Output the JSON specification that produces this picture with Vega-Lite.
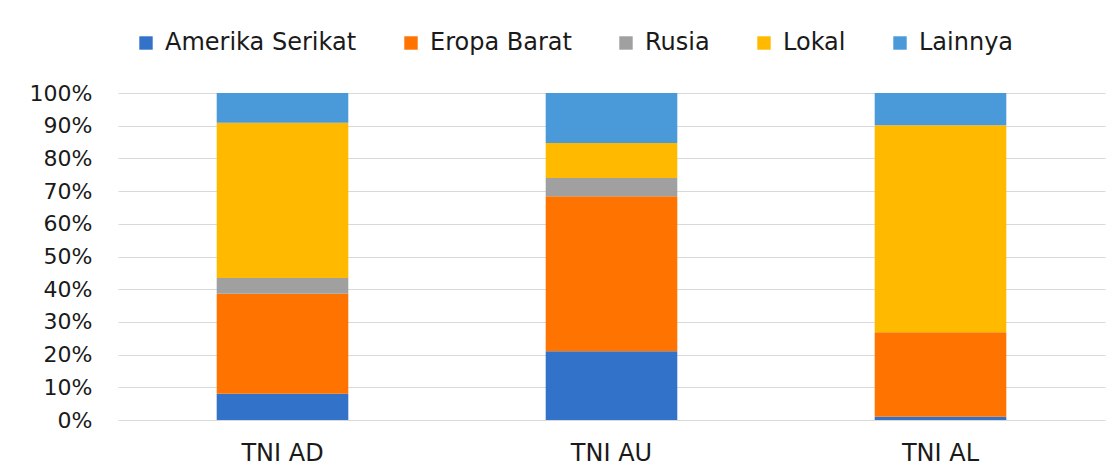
{
  "$schema": "https://vega.github.io/schema/vega-lite/v6.json",
  "width": 987,
  "height": 327,
  "autosize": "none",
  "padding": {"left": 118, "top": 93, "right": 9, "bottom": 45},
  "background": "white",
  "data": {
    "values": [
      {"kat": "TNI AD", "asal": "Amerika Serikat", "i": 1, "v": 0.08},
      {"kat": "TNI AD", "asal": "Eropa Barat", "i": 2, "v": 0.306},
      {"kat": "TNI AD", "asal": "Rusia", "i": 3, "v": 0.048},
      {"kat": "TNI AD", "asal": "Lokal", "i": 4, "v": 0.475},
      {"kat": "TNI AD", "asal": "Lainnya", "i": 5, "v": 0.091},
      {"kat": "TNI AU", "asal": "Amerika Serikat", "i": 1, "v": 0.21},
      {"kat": "TNI AU", "asal": "Eropa Barat", "i": 2, "v": 0.474},
      {"kat": "TNI AU", "asal": "Rusia", "i": 3, "v": 0.056},
      {"kat": "TNI AU", "asal": "Lokal", "i": 4, "v": 0.107},
      {"kat": "TNI AU", "asal": "Lainnya", "i": 5, "v": 0.153},
      {"kat": "TNI AL", "asal": "Amerika Serikat", "i": 1, "v": 0.01},
      {"kat": "TNI AL", "asal": "Eropa Barat", "i": 2, "v": 0.258},
      {"kat": "TNI AL", "asal": "Rusia", "i": 3, "v": 0.0},
      {"kat": "TNI AL", "asal": "Lokal", "i": 4, "v": 0.633},
      {"kat": "TNI AL", "asal": "Lainnya", "i": 5, "v": 0.099}
    ]
  },
  "mark": {"type": "bar"},
  "encoding": {
    "x": {
      "field": "kat",
      "type": "nominal",
      "sort": ["TNI AD", "TNI AU", "TNI AL"],
      "scale": {"paddingInner": 0.6, "paddingOuter": 0.3},
      "axis": {
        "title": null,
        "labelAngle": 0,
        "domain": false,
        "ticks": false,
        "labelPadding": 21,
        "labelFont": "DejaVu Sans",
        "labelFontSize": 24,
        "labelColor": "#1a1a1a"
      }
    },
    "y": {
      "field": "v",
      "type": "quantitative",
      "stack": "zero",
      "scale": {"domain": [0, 1], "nice": false},
      "axis": {
        "title": null,
        "format": ".0%",
        "values": [0, 0.1, 0.2, 0.3, 0.4, 0.5, 0.6, 0.7, 0.8, 0.9, 1],
        "domain": false,
        "ticks": false,
        "labelPadding": 26,
        "labelFont": "DejaVu Sans",
        "labelFontSize": 22,
        "labelColor": "#1a1a1a",
        "grid": true,
        "gridColor": "#d9d9d9",
        "gridWidth": 1
      }
    },
    "order": {"field": "i", "type": "quantitative"},
    "color": {
      "field": "asal",
      "type": "nominal",
      "scale": {
        "domain": ["Amerika Serikat", "Eropa Barat", "Rusia", "Lokal", "Lainnya"],
        "range": ["#3372c9", "#ff7300", "#a0a0a0", "#ffba00", "#4a99d8"]
      },
      "legend": {
        "title": null,
        "orient": "none",
        "direction": "horizontal",
        "legendX": 16,
        "legendY": -62,
        "symbolType": "square",
        "symbolSize": 180,
        "symbolStrokeWidth": 0,
        "labelFont": "DejaVu Sans",
        "labelFontSize": 24,
        "labelColor": "#1a1a1a",
        "labelOffset": 7,
        "columnPadding": 42,
        "labelLimit": 300
      }
    }
  },
  "config": {"view": {"stroke": null}}
}
